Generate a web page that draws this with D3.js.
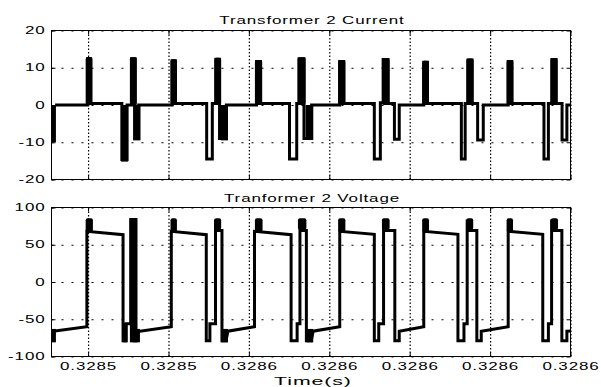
<!DOCTYPE html>
<html>
<head>
<meta charset="utf-8">
<script src="https://cdn.jsdelivr.net/npm/d3@7"></script>
<style>
  html, body { margin: 0; padding: 0; background: #fff; }
  svg { display: block; }
  text { font-family: "Liberation Sans", Arial, sans-serif; font-size: 10px; fill: #000; letter-spacing: 0.5px; }
</style>
</head>
<body>
<script>
// times are in microseconds after T0 (seconds)
const T0 = 0.3285;
const timeRange = [10.9, 140];
const timeTicks = [20, 40, 60, 80, 100, 120, 140];
const currentTicks = [-20, -10, 0, 10, 20];
const voltageTicks = [-100, -50, 0, 50, 100];

// current trace [us, A]
const currentLine = [
  [11.8, 0],
  [19.9, 0], [19.9, 12.4], [20.6, 12.4], [20.6, 0.4], [28.4, 0.4], [28.4, -14.6], [29.7, -14.6], [29.7, 0],
  [30.8, 0], [30.8, 12.4], [31.7, 12.4], [31.7, -9], [32.6, -9], [32.6, 0],
  [40.9, 0], [40.9, 11.9], [41.7, 11.9], [41.7, 0.4], [49.5, 0.4], [49.5, -14.5], [50.9, -14.5], [50.9, 0.4],
  [51.8, 0.4], [51.8, 12.3], [52.7, 12.3], [52.7, -9], [54.4, -9], [54.4, 0],
  [61.9, 0], [61.9, 11.7], [62.9, 11.7], [62.9, 0.4], [70.1, 0.4], [70.1, -14.5], [71.9, -14.5], [71.9, 0.4],
  [72.5, 0.4], [72.5, 12.4], [73.7, 12.4], [73.7, -9], [75.6, -9], [75.6, 0],
  [82.6, 0], [82.6, 11.7], [83.6, 11.7], [83.6, 0.4], [91.2, 0.4], [91.2, -14.5], [92.7, -14.5], [92.7, 0.6],
  [93.4, 0.6], [93.4, 12.2], [94.6, 12.2], [94.6, 0.4], [96.2, 0.4], [96.2, -9.2], [97.4, -9.2], [97.4, 0],
  [103.5, 0], [103.5, 11.5], [104.4, 11.5], [104.4, 0.4], [112.85, 0.4], [112.85, -14.5], [113.8, -14.5], [113.8, 0.4],
  [114.5, 0.4], [114.5, 12.1], [115.5, 12.1], [115.5, 0.4], [116.9, 0.4], [116.9, -9.4], [118.3, -9.4], [118.3, 0],
  [124.5, 0], [124.5, 11.7], [125.4, 11.7], [125.4, 0.4], [133.4, 0.4], [133.4, -14.5], [134.5, -14.5], [134.5, 0.4],
  [135.4, 0.4], [135.4, 12.2], [136.4, 12.2], [136.4, 0.4], [137.9, 0.4], [137.9, -9.4], [139.1, -9.4], [139.1, 0],
  [140.5, 0]
];
// ringing bursts that print as solid blocks [us start, us end, low, high]
const currentBursts = [
  [10.9, 12.0, -10, 0],
  [19.4, 21.1, 0, 12.9], [28.2, 29.95, -15.2, 0], [30.4, 32.1, 0, 12.8], [31.2, 33.0, -9.5, 0],
  [40.5, 42.1, 0, 12.3], [51.4, 53.1, 0, 12.7], [53.0, 54.8, -9.5, 0],
  [61.5, 63.3, 0, 12.1], [72.1, 74.1, 0, 12.8], [74.1, 76.0, -9.4, 0],
  [82.2, 84.0, 0, 12.1], [93.1, 95.0, 0, 12.6],
  [103.1, 104.8, 0, 11.9], [114.1, 115.9, 0, 12.5],
  [124.1, 125.8, 0, 12.1], [135.0, 136.8, 0, 12.6]
];

// voltage trace [us, V]
const voltageLine = [
  [11.3, -66],
  [19.7, -60], [19.7, 68], [28.7, 63.5], [28.7, -79], [29.5, -79], [29.5, -56], [30.6, -56],
  [30.6, 84], [31.9, 84], [31.9, -66], [32.9, -66],
  [40.7, -60], [40.7, 68], [49.4, 63.5], [49.4, -79], [50.3, -79], [50.3, -56], [51.7, -56],
  [51.7, 84], [52.0, 69], [53.3, 69], [53.3, -79], [54.3, -79], [54.8, -66],
  [61.4, -60], [61.4, 68], [70.5, 63.5], [70.5, -79], [72.0, -79], [72.0, -56], [72.7, -56],
  [72.7, 84], [73.0, 69], [74.3, 69], [74.3, -79], [75.5, -79], [76.0, -66],
  [82.6, -60], [82.6, 68], [91.2, 64], [91.2, -79], [92.3, -79], [92.3, -56], [93.5, -56],
  [93.5, 84], [93.8, 69], [96.3, 69], [96.3, -79], [97.4, -79], [97.4, -66],
  [103.5, -60], [103.5, 68], [112.0, 64], [112.0, -79], [113.5, -79], [113.5, -56], [114.3, -56],
  [114.3, 84], [114.6, 69], [116.7, 69], [116.7, -79], [117.8, -79], [117.8, -66],
  [124.5, -60], [124.5, 68], [133.1, 64], [133.1, -79], [134.5, -79], [134.5, -56], [135.3, -56],
  [135.3, 84], [135.6, 69], [137.85, 69], [137.85, -79], [139.1, -79], [139.1, -66],
  [140.5, -65.5]
];
const voltageBursts = [
  [10.9, 12.0, -81, -63],
  [19.4, 21.2, 67, 85.5], [28.6, 29.7, -81, -55], [30.4, 32.2, -81, 85.5], [31.2, 32.9, -81, -63],
  [40.5, 42.1, 67, 85.5], [51.4, 53.1, 70, 85.5], [53.1, 54.8, -81, -63],
  [61.5, 63.4, 67, 85.5], [72.2, 74.3, 70, 85.5], [74.3, 76.0, -81, -63],
  [82.2, 84.0, 67, 85.5], [93.1, 95.0, 70, 85.5],
  [103.1, 104.8, 67, 85.5], [114.1, 115.8, 70, 85.5],
  [124.1, 125.7, 67, 85.5], [135.1, 136.9, 70, 85.5]
];

const width = 601, height = 387;
const left = 51.5, right = 570.5;
const sx = 1.7; // the old screen font is drawn wide

const svg = d3.select('body').append('svg')
  .attr('width', width)
  .attr('height', height);

const x = d3.scaleLinear()
  .domain(timeRange.map(t => T0 + t * 1e-6))
  .range([left, right]);
const xTickVals = timeTicks.map(t => T0 + t * 1e-6);

function label(g, px, py, str, anchor, scale) {
  return g.append('text')
    .attr('transform', `translate(${px},${py}) scale(${scale || sx},1)`)
    .attr('text-anchor', anchor)
    .text(str);
}

const panels = [
  {top: 30.5, bottom: 179.5, title: 'Transformer 2 Current', titleY: 24, ticks: currentTicks,
   line: currentLine, bursts: currentBursts},
  {top: 207.5, bottom: 356.5, title: 'Tranformer 2 Voltage', titleY: 201.5, ticks: voltageTicks,
   line: voltageLine, bursts: voltageBursts}
];

panels.forEach((p, i) => {
  const y = d3.scaleLinear()
    .domain(d3.extent(p.ticks))
    .range([p.bottom, p.top]);
  const h = p.bottom - p.top;
  const g = svg.append('g');

  // dotted grid
  const gx = g.append('g')
    .attr('transform', `translate(0,${p.bottom})`)
    .call(d3.axisBottom(x).tickValues(xTickVals).tickSize(-h).tickFormat(''));
  gx.select('.domain').remove();
  gx.selectAll('line').attr('stroke', '#000').attr('stroke-width', 1.2).attr('stroke-dasharray', '1.5,2');

  const gy = g.append('g')
    .attr('transform', `translate(${left},0)`)
    .call(d3.axisLeft(y).tickValues(p.ticks).tickSize(-(right - left)).tickFormat(''));
  gy.select('.domain').remove();
  gy.selectAll('line').attr('stroke', '#000').attr('stroke-dasharray', '2,8');

  // inward ticks on all four sides
  const tk = 4;
  [
    [d3.axisBottom(x).tickValues(xTickVals), `translate(0,${p.bottom})`],
    [d3.axisTop(x).tickValues(xTickVals), `translate(0,${p.top})`],
    [d3.axisLeft(y).tickValues(p.ticks), `translate(${left},0)`],
    [d3.axisRight(y).tickValues(p.ticks), `translate(${right},0)`]
  ].forEach(([ax, tr]) => {
    const a = g.append('g').attr('transform', tr).call(ax.tickSize(-tk).tickFormat(''));
    a.select('.domain').remove();
    a.selectAll('line').attr('stroke', '#000');
  });

  // clipped trace
  const clipId = 'clip' + i;
  svg.append('clipPath').attr('id', clipId)
    .append('rect')
    .attr('x', left).attr('y', p.top)
    .attr('width', right - left).attr('height', h);

  const plot = g.append('g').attr('clip-path', `url(#${clipId})`);
  const xt = t => x(T0 + t * 1e-6);

  plot.selectAll('rect.burst')
    .data(p.bursts)
    .enter()
    .append('rect')
    .classed('burst', true)
    .attr('x', d => xt(d[0]))
    .attr('width', d => xt(d[1]) - xt(d[0]))
    .attr('y', d => y(d[3]))
    .attr('height', d => y(d[2]) - y(d[3]))
    .attr('rx', d => d[2] >= 0 ? 2 : 0)
    .style('fill', '#000');

  const line = d3.line()
    .x(d => xt(d[0]))
    .y(d => y(d[1]));

  plot.append('path')
    .datum(p.line)
    .attr('d', line)
    .attr('fill', 'none')
    .attr('stroke', '#000')
    .attr('stroke-width', 3)
    .attr('stroke-linejoin', 'miter');

  // box
  g.append('rect')
    .attr('x', left).attr('y', p.top)
    .attr('width', right - left).attr('height', h)
    .attr('fill', 'none')
    .attr('stroke', '#000');

  // y tick labels
  p.ticks.forEach(v => {
    label(g, 45.5, y(v) + 3.6, String(v), 'end');
  });

  label(g, (left + right) / 2 + 1, p.titleY, p.title, 'middle');
});

// x tick labels under the lower panel
const fmt = d3.format('.4f');
xTickVals.forEach(v => {
  label(svg, x(v) + 0.5, 370, fmt(v), 'middle');
});

label(svg, 313, 384.5, 'Time(s)', 'middle', 1.85).style('font-size', '11.5px');
</script>
</body>
</html>
